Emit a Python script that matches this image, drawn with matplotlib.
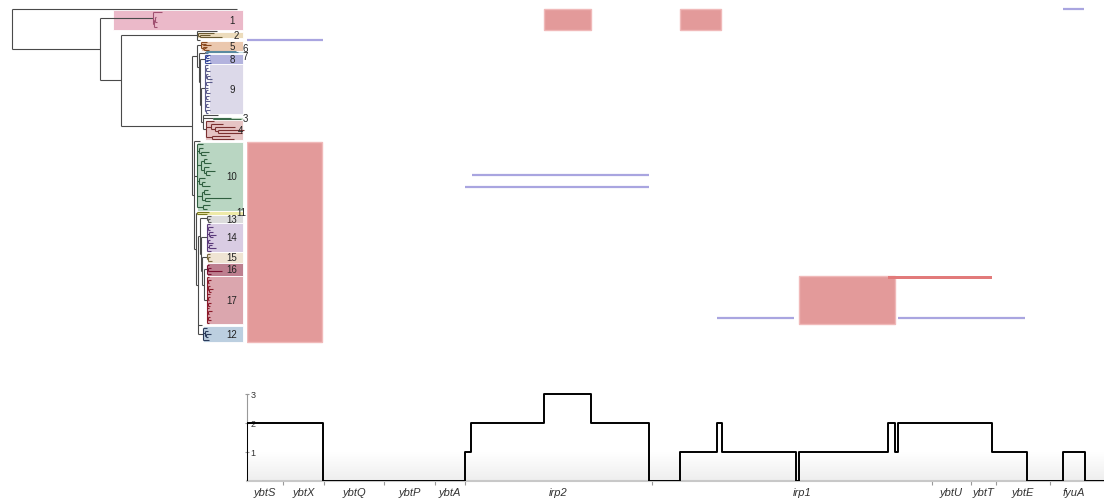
import matplotlib.pyplot as plt
import numpy as np
from collections import Counter
from matplotlib.collections import LineCollection
from matplotlib.colors import LinearSegmentedColormap

plt.rcParams['font.family'] = ['Liberation Sans', 'DejaVu Sans']

# ---------------- tree (branch lengths, tips named by clade) ----------------
clade1 = "(1:9,((1:1,1:2):1,1:3):1)"
clade2 = "(2:16,(2:10,2:22):2)"
clade5 = "(5:6,(5:3,5:8):2,(5:4,(5:2,5:5):1):2)"
clade6 = "(6:30,6:32)"
clade8 = "(8:5,(8:2,8:3):1,(8:4,8:2):1,8:6)"
clade9 = ("(9:3,(9:2,9:4):1,(9:2,(9:3,9:5):1):1,(9:6,9:2):1,9:3,(9:2,9:4):1,"
          "(9:3,9:2):1,9:5,(9:2,9:3):1,(9:4,9:2):1)")
clade3 = "(3:18,3:28)"
clade4 = "(4:8,(4:12,(4:20,(4:26,4:24):3):4):5,(4:18,4:22):6)"
clade10 = ("(10:6,(10:4,(10:8,10:5):2):2,((10:3,10:7):3,(10:5,(10:9,10:4):2):3):4,"
           "(10:6,(10:3,10:8):3):2,((10:4,10:6):2,(10:26,10:5):3):5,(10:7,10:4):6)")
clade11 = "(11:12,11:10)"
clade13 = "(13:4,(13:2,13:3):1)"
clade14 = "(14:3,(14:5,14:2):1,(14:4,(14:6,14:3):1):2,(14:2,14:5):1,(14:3,14:7):2,14:4)"
clade15 = "(15:3,(15:2,15:4):1)"
clade16 = "(16:2,(16:3,16:14):1,16:4)"
clade17 = ("(17:2,(17:3,17:1):1,(17:2,(17:4,17:2):1):1,17:3,(17:2,17:1):1,"
           "(17:3,17:2):1,17:2,(17:4,17:1):1,(17:2,17:3):1,17:2)")
clade12 = "(12:4,(12:3,(12:5,12:2):1):2,12:6)"

upper = (f"({clade5}:4,(({clade6}:1,7:3):6,({clade8}:5,({clade9}:4,"
         f"(c:15,{clade3}:10,{clade4}:3):2):1):1):2)")
ladder = f"({clade13}:7,({clade14}:6,({clade15}:5,({clade16}:3,{clade17}:3):2):1):1)"
lower = f"(d:6,{clade10}:3,({clade11}:1,({ladder}:2,e:4,{clade12}:5):2):2)"
tree_newick = (f"(og:225,({clade1}:53,((a:20,{clade2}:1,b:3):76,"
               f"({upper}:5,{lower}:2):71):21):88);")

# isolates (rows) in each clade / unclustered tip
group_rows = {"og": 1, "1": 20.5, "a": 2, "2": 6, "b": 3, "5": 10, "6": 2, "7": 1,
              "8": 10, "9": 50, "c": 3, "3": 3, "4": 20, "d": 2, "10": 69, "11": 4,
              "13": 8, "14": 29, "15": 11, "16": 13, "17": 48, "e": 2, "12": 16}

# ---------------- recombination events ----------------
# imported blocks: start kb, end kb, first row, last row
block_start = [10.40, 15.16, 0.00, 19.32]
block_end = [12.04, 16.59, 2.63, 22.68]
block_row0 = [9.5, 9.5, 143, 277]
block_row1 = [31, 31, 343, 325]
# narrow block
narrow_start, narrow_end, narrow_row0, narrow_row1 = 22.44, 26.08, 277, 280
# single isolate events
single_start = [28.56, 0.00, 7.88, 7.63, 16.45, 22.79]
single_end = [29.30, 2.66, 14.07, 14.07, 19.15, 27.23]
single_row = [10, 41, 176, 188, 319, 319]

# ---------------- locus and coverage ----------------
gene_names = ["ybtS", "ybtX", "ybtQ", "ybtP", "ybtA", "irp2", "irp1", "ybtU", "ybtT", "ybtE", "fyuA"]
gene_start = [0.00, 1.26, 2.70, 4.80, 6.58, 7.63, 14.90, 23.98, 25.34, 26.22, 28.10]
gene_end = [1.26, 2.70, 4.80, 6.58, 7.63, 14.18, 23.98, 25.34, 26.22, 28.10, 29.80]

cov_pos = [0.00, 0.00, 2.66, 7.63, 7.84, 10.40, 12.04, 14.07, 15.16, 16.45, 16.63,
           19.22, 19.32, 22.44, 22.68, 22.79, 26.08, 27.30, 28.56, 29.33, 30.00]
cov_val = [0, 2, 0, 1, 2, 3, 2, 0, 1, 2, 1, 0, 1, 2, 1, 2, 1, 0, 1, 0, 0]

# clade: box colour, branch colour, box left edge
clade_style = {
    '1': ('#ebb9c9', '#a05070', 113), '2': ('#ecdcbc', '#6a5a30', 197),
    '5': ('#ebc8ae', '#8a4a20', 201), '6': ('#c2dde6', '#5a8aa0', 207),
    '7': ('#c6d6e4', '#5a7aa0', 207), '8': ('#b3b3de', '#3a4a9a', 209),
    '9': ('#dcd9e9', '#5a5a8a', 209), '3': ('#c6dcc6', '#3a6a4a', 213),
    '4': ('#e6c4c4', '#7a3030', 205), '10': ('#b9d6c2', '#2f5f3f', 197),
    '11': ('#eeeaa8', '#7a7a20', 197), '13': ('#dcdcdc', '#555555', 207),
    '14': ('#d9cce3', '#5a3a7a', 207), '15': ('#efe4d3', '#7a6a40', 207),
    '16': ('#bd7f8f', '#7a1030', 207), '17': ('#dba6ae', '#8a1a2a', 207),
    '12': ('#bccfe0', '#2a3a5a', 203),
}
label_x = {'2': 236, '4': 241, '6': 245, '7': 245, '3': 245, '11': 241}
label_dy = {'6': -4, '7': 2.5, '11': -1}
backbone = '#4a4a4a'


def parse_newick(s):
    pos = 0

    def node():
        nonlocal pos
        kids = []
        if s[pos] == '(':
            pos += 1
            kids.append(node())
            while s[pos] == ',':
                pos += 1
                kids.append(node())
            pos += 1
        start = pos
        while s[pos] not in ':,);':
            pos += 1
        name = s[start:pos]
        length = 0.0
        if s[pos] == ':':
            pos += 1
            start = pos
            while s[pos] not in ',);':
                pos += 1
            length = float(s[start:pos])
        return {'name': name, 'len': length, 'kids': kids}

    return node()


def leaves(n):
    if not n['kids']:
        return [n]
    out = []
    for k in n['kids']:
        out += leaves(k)
    return out


root = parse_newick(tree_newick)
tips = leaves(root)
counts = Counter(t['name'] for t in tips)
row = 9.5
for t in tips:
    w = group_rows[t['name']] / counts[t['name']]
    t['y0'], t['y'], t['y1'] = row, row + w / 2, row + w
    row += w


def layout(n, x):
    n['x'] = x + n['len']
    for k in n['kids']:
        layout(k, n['x'])
    if n['kids']:
        n['y'] = (n['kids'][0]['y'] + n['kids'][-1]['y']) / 2
    n['groups'] = {t['name'] for t in leaves(n)}


layout(root, 12)

segs, cols = [], []


def branch_colour(n):
    g = n['groups']
    if len(g) == 1:
        name = next(iter(g))
        if name in clade_style:
            return clade_style[name][1]
    return backbone


def collect(n):
    if not n['kids']:
        return
    inside = branch_colour(n)
    segs.append([(n['x'], n['kids'][0]['y']), (n['x'], n['kids'][-1]['y'])])
    cols.append(inside)
    for k in n['kids']:
        # the stem leading into a clade stays in backbone grey
        segs.append([(n['x'], k['y']), (k['x'], k['y'])])
        cols.append(inside if inside != backbone else
                    (backbone if k['kids'] else branch_colour(k)))
        collect(k)


collect(root)

fig = plt.figure(figsize=(11.04, 5.02), dpi=100)
top_h = 350 / 502
ax_tree = fig.add_axes([0, 1 - top_h, 247 / 1104, top_h])
ax_rec = fig.add_axes([247 / 1104, 1 - top_h, 857 / 1104, top_h])
ax_cov = fig.add_axes([247 / 1104, 20 / 502, 857 / 1104, 102 / 502])

# clade boxes
for name, (face, line, left) in clade_style.items():
    members = [t for t in tips if t['name'] == name]
    y0, y1 = members[0]['y0'], members[-1]['y1']
    ax_tree.barh((y0 + y1) / 2, 243 - left, left=left, height=y1 - y0,
                 color=face, edgecolor='white', linewidth=0.6, zorder=1)
    ax_tree.text(label_x.get(name, 232), (y0 + y1) / 2 + label_dy.get(name, 0), name,
                 ha='center', va='center', fontsize=7, color='#222222', zorder=4)

ax_tree.add_collection(LineCollection(segs, colors=cols, linewidths=0.8, zorder=3))
ax_tree.set_xlim(0, 247)
ax_tree.set_ylim(350, 0)
ax_tree.axis('off')

# recombination panel
red = '#e39a9a'
for s, e, r0, r1 in zip(block_start, block_end, block_row0, block_row1):
    ax_rec.barh((r0 + r1) / 2, e - s, left=s, height=r1 - r0, color=red,
                edgecolor='#f0b9b9', linewidth=1)
ax_rec.barh((narrow_row0 + narrow_row1) / 2, narrow_end - narrow_start, left=narrow_start,
            height=narrow_row1 - narrow_row0, color='#e27a7a', linewidth=0)
ax_rec.hlines(single_row, single_start, single_end, color='#a9a5e0', linewidth=1.6)
ax_rec.set_xlim(0, 30)
ax_rec.set_ylim(350, 0)
ax_rec.axis('off')

# coverage of recombination along the locus
fade = LinearSegmentedColormap.from_list('fade', ['#ffffff', '#eeeeee'])
grad = np.linspace(0, 1, 100).reshape(-1, 1)
ax_cov.imshow(grad, extent=(0, 30, 0, 1.0), aspect='auto', cmap=fade,
              origin='upper', zorder=0)
ax_cov.step(cov_pos, cov_val, where='post', color='black', linewidth=1.4, zorder=3)
ax_cov.set_xlim(0, 30)
ax_cov.set_ylim(0, 102 / 29)
for side in ['top', 'right']:
    ax_cov.spines[side].set_visible(False)
ax_cov.spines['left'].set_bounds(0, 3)
ax_cov.spines['left'].set_color('#999999')
ax_cov.spines['bottom'].set_color('#c8c8c8')
ax_cov.spines['bottom'].set_linewidth(1.5)
ax_cov.set_yticks([1, 2, 3])
ax_cov.set_yticklabels(['1', '2', '3'])
ax_cov.tick_params(axis='y', direction='inout', length=3, pad=-4, labelsize=6.5,
                   color='#999999', labelcolor='#333333')
for lab in ax_cov.get_yticklabels():
    lab.set_ha('left')
ax_cov.set_xticks(gene_end[:-1])
ax_cov.set_xticklabels([])
ax_cov.tick_params(axis='x', which='major', direction='out', length=3, color='#999999')
ax_cov.set_xticks([(s + e) / 2 for s, e in zip(gene_start, gene_end)], minor=True)
ax_cov.set_xticklabels(gene_names, minor=True, fontstyle='italic', fontsize=8, color='#333333')
ax_cov.tick_params(axis='x', which='minor', length=0, pad=4)

fig.savefig('out.png', dpi=100)
